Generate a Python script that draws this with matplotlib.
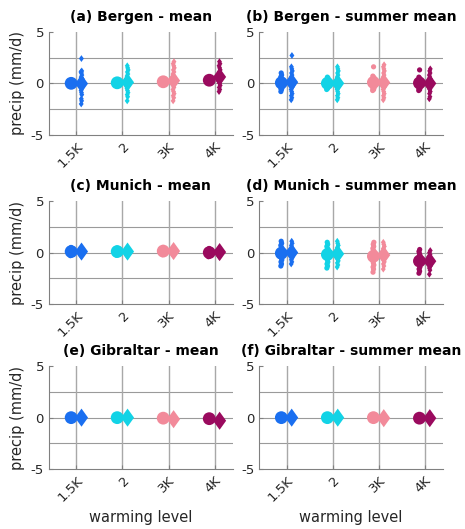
import numpy as np
import matplotlib
matplotlib.use("Agg")
import matplotlib.pyplot as plt
from matplotlib.path import Path

plt.rcParams['axes.unicode_minus'] = False

###########################################################
# data
###########################################################
levels = ['1.5K', '2', '3K', '4K']
colors = ['#1a6ff0', '#12d3e6', '#f28a9a', '#9a0a5e']

titles = ['(a) Bergen - mean', '(b) Bergen - summer mean',
          '(c) Munich - mean', '(d) Munich - summer mean',
          '(e) Gibraltar - mean', '(f) Gibraltar - summer mean']

# circles (left group) and diamonds (right group), one list per warming level
bergen_mean_circ = [
    [-0.3, -0.2, -0.15, -0.1, -0.05, -0.05, 0.0, 0.0, 0.0, 0.05, 0.05, 0.1, 0.15, 0.2, 0.3],
    [-0.25, -0.15, -0.1, -0.05, 0.0, 0.0, 0.05, 0.05, 0.05, 0.1, 0.1, 0.15, 0.2, 0.25, 0.35],
    [-0.15, -0.05, 0.0, 0.05, 0.1, 0.1, 0.15, 0.15, 0.15, 0.2, 0.2, 0.25, 0.3, 0.35, 0.45],
    [0.0, 0.1, 0.15, 0.2, 0.25, 0.25, 0.3, 0.3, 0.3, 0.35, 0.35, 0.4, 0.45, 0.5, 0.6],
]
bergen_mean_dia = [
    [2.4, 1.2, 1.1, 1.0, 0.8, 0.6, 0.5, 0.4, 0.3, 0.2, 0.15, 0.1, 0.05, 0.0, 0.0, 0.0,
     -0.05, -0.1, -0.15, -0.2, -0.3, -0.4, -0.5, -0.7, -0.9, -1.1, -1.5, -1.7, -2.0],
    [1.7, 1.5, 1.3, 1.1, 0.9, 0.7, 0.5, 0.4, 0.3, 0.2, 0.15, 0.1, 0.1, 0.05, 0.0, -0.1,
     -0.2, -0.3, -0.5, -0.7, -0.9, -1.1, -1.3, -1.7],
    [2.1, 1.9, 1.7, 1.5, 1.3, 1.1, 0.9, 0.7, 0.6, 0.5, 0.4, 0.35, 0.3, 0.25, 0.2, 0.1,
     0.0, -0.2, -0.4, -0.6, -0.8, -1.0, -1.2, -1.4, -1.7],
    [2.1, 1.9, 1.7, 1.5, 1.3, 1.1, 0.9, 0.8, 0.7, 0.6, 0.55, 0.5, 0.45, 0.4, 0.3, 0.2,
     0.0, -0.2, -0.4, -0.6, -0.8],
]
bergen_summer_circ = [
    [1.0, 0.8, 0.6, 0.5, 0.4, 0.3, 0.2, 0.15, 0.1, 0.05, 0.0, 0.0, -0.05, -0.1, -0.15,
     -0.2, -0.3, -0.4, -0.5, -0.6, -0.8],
    [0.6, 0.5, 0.4, 0.3, 0.2, 0.15, 0.1, 0.05, 0.0, 0.0, -0.05, -0.1, -0.15, -0.2, -0.3,
     -0.4, -0.5, -0.6],
    [1.6, 0.7, 0.6, 0.5, 0.4, 0.3, 0.2, 0.15, 0.1, 0.05, 0.0, 0.0, -0.05, -0.1, -0.2,
     -0.3, -0.4, -0.5, -0.6, -0.7],
    [1.3, 0.6, 0.5, 0.4, 0.3, 0.2, 0.15, 0.1, 0.05, 0.0, 0.0, -0.05, -0.1, -0.15, -0.2,
     -0.3, -0.4, -0.5, -0.6, -0.7],
]
bergen_summer_dia = [
    [2.7, 1.6, 1.4, 1.2, 1.0, 0.8, 0.6, 0.4, 0.3, 0.2, 0.1, 0.05, 0.0, 0.0, -0.05, -0.1,
     -0.2, -0.3, -0.4, -0.6, -0.8, -1.0, -1.2, -1.4, -1.6],
    [1.6, 1.4, 1.2, 1.0, 0.8, 0.6, 0.4, 0.3, 0.2, 0.1, 0.05, 0.0, 0.0, -0.05, -0.1, -0.2,
     -0.3, -0.4, -0.6, -0.8, -1.0, -1.2, -1.4, -1.6],
    [1.8, 1.6, 1.4, 1.2, 1.0, 0.8, 0.6, 0.4, 0.3, 0.2, 0.1, 0.05, 0.0, 0.0, -0.05, -0.1,
     -0.2, -0.3, -0.4, -0.6, -0.8, -1.0, -1.2, -1.4, -1.6],
    [1.4, 1.2, 1.0, 0.8, 0.6, 0.4, 0.3, 0.2, 0.1, 0.05, 0.0, 0.0, -0.05, -0.1, -0.2, -0.3,
     -0.4, -0.6, -0.8, -1.0, -1.3, -1.5],
]
munich_mean_circ = [
    [-0.3, -0.2, -0.1, 0.0, 0.05, 0.1, 0.1, 0.1, 0.15, 0.2, 0.3, 0.4, 0.5],
    [-0.25, -0.15, -0.05, 0.0, 0.05, 0.1, 0.1, 0.1, 0.15, 0.2, 0.25, 0.35, 0.45],
    [-0.2, -0.1, 0.0, 0.05, 0.1, 0.1, 0.15, 0.15, 0.2, 0.25, 0.3, 0.4, 0.5],
    [-0.4, -0.3, -0.2, -0.1, -0.05, 0.0, 0.0, 0.0, 0.05, 0.1, 0.2, 0.3, 0.4],
]
munich_mean_dia = [
    [-0.3, -0.2, -0.1, 0.0, 0.05, 0.1, 0.1, 0.1, 0.15, 0.2, 0.3, 0.4, 0.5],
    [-0.3, -0.2, -0.1, 0.0, 0.05, 0.1, 0.1, 0.1, 0.15, 0.2, 0.3, 0.4, 0.5],
    [-0.25, -0.15, -0.05, 0.05, 0.1, 0.15, 0.15, 0.15, 0.2, 0.25, 0.35, 0.45, 0.55],
    [-0.35, -0.25, -0.15, -0.05, 0.0, 0.05, 0.05, 0.05, 0.1, 0.15, 0.25, 0.35, 0.45],
]
munich_summer_circ = [
    [1.1, 0.9, 0.7, 0.5, 0.4, 0.3, 0.2, 0.1, 0.05, 0.0, 0.0, -0.05, -0.1, -0.2, -0.3,
     -0.4, -0.5, -0.7, -0.9, -1.1, -1.3],
    [1.0, 0.8, 0.6, 0.4, 0.3, 0.2, 0.1, 0.0, -0.05, -0.1, -0.1, -0.15, -0.2, -0.3, -0.4,
     -0.5, -0.7, -0.9, -1.1, -1.3, -1.5],
    [1.0, 0.8, 0.6, 0.4, 0.2, 0.1, 0.0, -0.1, -0.2, -0.25, -0.3, -0.3, -0.35, -0.4, -0.5,
     -0.6, -0.8, -1.0, -1.2, -1.4, -1.6, -1.9],
    [0.3, 0.1, -0.1, -0.3, -0.4, -0.5, -0.6, -0.7, -0.75, -0.8, -0.8, -0.85, -0.9, -1.0,
     -1.1, -1.2, -1.4, -1.6, -1.8, -2.0],
]
munich_summer_dia = [
    [1.1, 0.9, 0.7, 0.5, 0.3, 0.2, 0.1, 0.05, 0.0, 0.0, -0.05, -0.1, -0.2, -0.3, -0.5,
     -0.7, -0.9, -1.1],
    [1.1, 0.9, 0.7, 0.5, 0.3, 0.2, 0.1, 0.0, -0.05, -0.1, -0.1, -0.2, -0.3, -0.4, -0.6,
     -0.8, -1.0, -1.2, -1.4],
    [1.0, 0.8, 0.6, 0.4, 0.2, 0.1, 0.0, -0.1, -0.2, -0.25, -0.3, -0.35, -0.4, -0.5, -0.7,
     -0.9, -1.1, -1.3, -1.6],
    [0.2, 0.0, -0.2, -0.4, -0.5, -0.6, -0.7, -0.75, -0.8, -0.85, -0.9, -1.0, -1.1, -1.3,
     -1.5, -1.7, -2.1],
]
gib_mean_circ = [
    [-0.2, -0.15, -0.1, -0.05, 0.0, 0.0, 0.0, 0.05, 0.1, 0.15, 0.2],
    [-0.2, -0.15, -0.1, -0.05, 0.0, 0.0, 0.0, 0.05, 0.1, 0.15, 0.2],
    [-0.25, -0.2, -0.15, -0.1, -0.05, -0.05, -0.05, 0.0, 0.05, 0.1, 0.15],
    [-0.3, -0.25, -0.2, -0.15, -0.1, -0.1, -0.1, -0.05, 0.0, 0.05, 0.1],
]
gib_mean_dia = [
    [-0.2, -0.15, -0.1, -0.05, 0.0, 0.0, 0.0, 0.05, 0.1, 0.15, 0.2],
    [-0.2, -0.15, -0.1, -0.05, 0.0, 0.0, 0.0, 0.05, 0.1, 0.15, 0.2],
    [-0.35, -0.3, -0.25, -0.2, -0.15, -0.15, -0.15, -0.1, -0.05, 0.0, 0.05],
    [-0.5, -0.45, -0.4, -0.35, -0.3, -0.3, -0.3, -0.25, -0.2, -0.15, -0.1],
]
gib_summer_circ = [
    [-0.2, -0.15, -0.1, -0.05, 0.0, 0.0, 0.0, 0.05, 0.1, 0.15, 0.2],
    [-0.2, -0.15, -0.1, -0.05, 0.0, 0.0, 0.0, 0.05, 0.1, 0.15, 0.2],
    [-0.2, -0.15, -0.1, -0.05, 0.0, 0.0, 0.0, 0.05, 0.1, 0.15, 0.2],
    [-0.25, -0.2, -0.15, -0.1, -0.05, -0.05, -0.05, 0.0, 0.05, 0.1, 0.15],
]
gib_summer_dia = [
    [-0.2, -0.15, -0.1, -0.05, 0.0, 0.0, 0.0, 0.05, 0.1, 0.15, 0.2],
    [-0.2, -0.15, -0.1, -0.05, 0.0, 0.0, 0.0, 0.05, 0.1, 0.15, 0.2],
    [-0.25, -0.2, -0.15, -0.1, -0.05, -0.05, -0.05, 0.0, 0.05, 0.1, 0.15],
    [-0.25, -0.2, -0.15, -0.1, -0.05, -0.05, -0.05, 0.0, 0.05, 0.1, 0.15],
]

panels = [
    (bergen_mean_circ, bergen_mean_dia), (bergen_summer_circ, bergen_summer_dia),
    (munich_mean_circ, munich_mean_dia), (munich_summer_circ, munich_summer_dia),
    (gib_mean_circ, gib_mean_dia), (gib_summer_circ, gib_summer_dia),
]

# tall diamond like the matlab one
diamond = Path([(0, 1), (0.72, 0), (0, -1), (-0.72, 0), (0, 1)],
               [Path.MOVETO, Path.LINETO, Path.LINETO, Path.LINETO, Path.CLOSEPOLY])


# density scaled jitter, like matlab swarmchart (deterministic sequence)
def swarm_x(values, center, half_width, bw=0.15):
    v = np.asarray(values, dtype=float)
    d = np.exp(-0.5 * ((v[:, None] - v[None, :]) / bw) ** 2).sum(axis=1)
    d = d / d.max()
    order = np.argsort(v)
    u = np.zeros(len(v))
    for k, i in enumerate(order):
        u[i] = ((k * 0.618034) % 1.0) * 2 - 1
    return center + half_width * d * u


def draw_panel(ax, circ, dia, title):
    x = np.arange(1, len(levels) + 1)
    for yy in [-2.5, 0, 2.5]:
        ax.axhline(yy, color='#9a9a9a', lw=0.8, zorder=0)
    for xx in x:
        ax.axvline(xx, color='#a8a8a8', lw=1.0, zorder=0)

    for i in range(len(levels)):
        # members as small markers
        xc = swarm_x(circ[i], x[i] - 0.115, 0.05)
        ax.scatter(xc, circ[i], s=14, marker='o', color=colors[i],
                   edgecolors='none', zorder=3)
        xd = swarm_x(dia[i], x[i] + 0.11, 0.05)
        ax.scatter(xd, dia[i], s=24, marker=diamond, color=colors[i],
                   edgecolors='none', zorder=3)
        # ensemble mean as big marker
        ax.scatter([x[i] - 0.115], [np.mean(circ[i])], s=85, marker='o',
                   color=colors[i], edgecolors='none', zorder=4)
        ax.scatter([x[i] + 0.11], [np.mean(dia[i])], s=170, marker=diamond,
                   color=colors[i], edgecolors='none', zorder=4)

    ax.set_xlim(0.4, 4.4)
    ax.set_ylim(-5, 5)
    ax.set_xticks(x)
    ax.set_xticklabels(levels, rotation=45, ha='right', va='top',
                       rotation_mode='anchor')
    ax.set_yticks([-5, 0, 5])
    ax.spines['top'].set_visible(False)
    ax.spines['right'].set_visible(False)
    for s in ['left', 'bottom']:
        ax.spines[s].set_color('#808080')
    ax.tick_params(direction='in', length=3, color='#808080',
                   labelcolor='#262626', labelsize=9.5)
    ax.set_title(title, fontsize=10, fontweight='bold', pad=8)


###########################################################
# main
###########################################################
def main():
    fig = plt.figure(figsize=(4.65, 5.29), dpi=100)
    lefts = [0.105, 0.557]
    bottoms = [0.745, 0.425, 0.113]
    w, h = 0.396, 0.195

    for k, (circ, dia) in enumerate(panels):
        row, col = k // 2, k % 2
        ax = fig.add_axes([lefts[col], bottoms[row], w, h])
        draw_panel(ax, circ, dia, titles[k])
        if col == 0:
            ax.set_ylabel('precip (mm/d)', fontsize=10.5, color='#262626',
                          labelpad=4)
        if row == 2:
            ax.set_xlabel('warming level', fontsize=10.5, color='#262626',
                          labelpad=4)

    fig.savefig('out.png', dpi=100)


if __name__ == '__main__':
    main()
